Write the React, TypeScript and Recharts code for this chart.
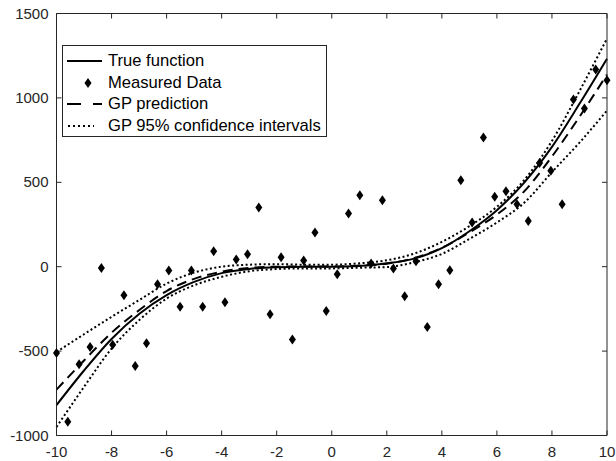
import React from "react";
import { ComposedChart, Line, Scatter, XAxis, YAxis } from "recharts";

const curveX = [-10, -9, -8, -7, -6, -5, -4, -3, -2, -1, 0, 1, 2, 3, 4, 5, 6, 7, 8, 9, 10];
const trueValues = [-820, -615, -428, -280, -168, -90, -38, -13, -3, 0, 0, 4, 20, 48, 110, 210, 335, 500, 710, 965, 1232];
const gpValues = [-728, -556, -391, -258, -144, -72, -30, -7, 0, 1, 1, 7, 18, 52, 112, 203, 309, 448, 653, 888, 1139];
const upperValues = [-505, -400, -297, -198, -100, -35, 0, 12, 15, 12, 12, 20, 38, 78, 147, 240, 355, 515, 745, 1040, 1352];
const lowerValues = [-950, -712, -485, -317, -189, -110, -60, -27, -14, -10, -10, -6, -2, 26, 76, 165, 262, 380, 560, 735, 925];

const measuredX = [-10, -9.59, -9.18, -8.78, -8.37, -7.96, -7.55, -7.14, -6.73, -6.33, -5.92, -5.51, -5.1, -4.69, -4.29, -3.88, -3.47, -3.06, -2.65, -2.24, -1.84, -1.43, -1.02, -0.61, -0.2, 0.2, 0.61, 1.02, 1.43, 1.84, 2.24, 2.65, 3.06, 3.47, 3.88, 4.29, 4.69, 5.1, 5.51, 5.92, 6.33, 6.73, 7.14, 7.55, 7.96, 8.37, 8.78, 9.18, 9.59, 10];
const measuredY = [-511, -919, -578, -475, -7, -463, -169, -588, -453, -104, -23, -238, -23, -238, 92, -210, 43, 74, 351, -281, 56, -431, 37, 203, -262, -44, 315, 424, 19, 394, -11, -175, 33, -357, -104, -21, 512, 262, 765, 414, 447, 370, 271, 615, 568, 370, 990, 937, 1168, 1105];

const xTicks = [-10, -8, -6, -4, -2, 0, 2, 4, 6, 8, 10];
const yTicks = [-1000, -500, 0, 500, 1000, 1500];

const legendLabels = ["True function", "Measured Data", "GP prediction", "GP 95% confidence intervals"];

const X_MIN = xTicks[0];
const X_MAX = xTicks[xTicks.length - 1];
const Y_MIN = yTicks[0];
const Y_MAX = yTicks[yTicks.length - 1];

const toSeries = (ys: number[]) => curveX.map((x, i) => ({ x, y: ys[i] }));
const trueData = toSeries(trueValues);
const gpData = toSeries(gpValues);
const upperData = toSeries(upperValues);
const lowerData = toSeries(lowerValues);
const measuredData = measuredX.map((x, i) => ({ x, y: measuredY[i] }));

// axis-box decorations, positioned through the chart scales
const topTickData = xTicks.map((x) => ({ x, y: Y_MAX }));
const bottomTickData = xTicks.map((x) => ({ x, y: Y_MIN }));
const leftTickData = yTicks.map((y) => ({ x: X_MIN, y }));
const rightTickData = yTicks.map((y) => ({ x: X_MAX, y }));

const W = 616;
const H = 461;
const M_TOP = 13.5;
const M_RIGHT = 9;
const Y_AXIS_W = 56.5;
const X_AXIS_H = 25.5;
const PLOT_W = W - Y_AXIS_W - M_RIGHT;
const PLOT_H = H - M_TOP - X_AXIS_H;

const AXIS = "#262626";
const FONT = "'Liberation Sans', Arial, Helvetica, sans-serif";
const TL = 5;

const BottomTick = (p: any) => (
  <text x={p.x} y={p.y + 21} textAnchor="middle" fontSize={15} fill={AXIS} fontFamily={FONT}>
    {p.payload.value}
  </text>
);
const LeftTick = (p: any) => (
  <text x={p.x - 8} y={p.y + 5} textAnchor="end" fontSize={15} fill={AXIS} fontFamily={FONT}>
    {p.payload.value}
  </text>
);

const TopMark = (p: any) => {
  const { cx, cy, payload } = p;
  if (cx == null || cy == null) return null;
  return (
    <g>
      <line x1={cx} y1={cy} x2={cx} y2={cy + TL} stroke={AXIS} strokeWidth={1} />
      {payload && payload.x === X_MIN ? (
        <line x1={cx} y1={cy} x2={cx + PLOT_W} y2={cy} stroke={AXIS} strokeWidth={1} />
      ) : null}
    </g>
  );
};
const BottomMark = (p: any) => {
  const { cx, cy } = p;
  if (cx == null || cy == null) return null;
  return <line x1={cx} y1={cy} x2={cx} y2={cy - TL} stroke={AXIS} strokeWidth={1} />;
};
const LeftMark = (p: any) => {
  const { cx, cy } = p;
  if (cx == null || cy == null) return null;
  return <line x1={cx} y1={cy} x2={cx + TL} y2={cy} stroke={AXIS} strokeWidth={1} />;
};
const RightMark = (p: any) => {
  const { cx, cy, payload } = p;
  if (cx == null || cy == null) return null;
  return (
    <g>
      <line x1={cx} y1={cy} x2={cx - TL} y2={cy} stroke={AXIS} strokeWidth={1} />
      {payload && payload.y === Y_MIN ? (
        <line x1={cx} y1={cy} x2={cx} y2={cy - PLOT_H} stroke={AXIS} strokeWidth={1} />
      ) : null}
    </g>
  );
};

const Diamond = (p: any) => {
  const { cx, cy } = p;
  if (cx == null || cy == null) return null;
  return <polygon points={`${cx},${cy - 5} ${cx + 3.5},${cy} ${cx},${cy + 5} ${cx - 3.5},${cy}`} fill="#000" />;
};

const LegendBox = () => {
  const samples = [
    <line x1={0} y1={6} x2={35} y2={6} stroke="#000" strokeWidth={2} />,
    <polygon points="21,1 24.5,6 21,11 17.5,6" fill="#000" />,
    <line x1={0} y1={6} x2={35} y2={6} stroke="#000" strokeWidth={2.2} strokeDasharray="14 12" />,
    <line x1={1} y1={6} x2={27} y2={6} stroke="#000" strokeWidth={2} strokeDasharray="2 3" />,
  ];
  return (
    <div
      style={{
        position: "absolute",
        left: 62,
        top: 45,
        border: `1px solid ${AXIS}`,
        background: "#fff",
        width: 265,
        height: 92,
        boxSizing: "border-box",
        paddingTop: 4,
        fontFamily: FONT,
        fontSize: 16.6,
        color: "#000",
      }}
    >
      {legendLabels.map((label) => {
        const i = legendLabels.indexOf(label);
        return (
          <div key={label} style={{ display: "flex", alignItems: "center", height: 21.7 }}>
            <svg width={35} height={12} style={{ marginLeft: 4, marginRight: 6 }}>
              {samples[i]}
            </svg>
            <span>{label}</span>
          </div>
        );
      })}
    </div>
  );
};

export default function App() {
  return (
    <div style={{ position: "relative", width: W, height: H, background: "#fff", overflow: "hidden" }}>
      <style>{"html,body{margin:0;padding:0;}"}</style>
      <ComposedChart width={W} height={H} margin={{ top: M_TOP, right: M_RIGHT, left: 0, bottom: 0 }}>
        <XAxis
          dataKey="x"
          type="number"
          domain={[X_MIN, X_MAX]}
          ticks={xTicks}
          interval={0}
          height={X_AXIS_H}
          stroke={AXIS}
          tickSize={0}
          tickMargin={0}
          tick={<BottomTick />}
        />
        <YAxis
          type="number"
          domain={[Y_MIN, Y_MAX]}
          ticks={yTicks}
          interval={0}
          width={Y_AXIS_W}
          stroke={AXIS}
          tickSize={0}
          tickMargin={0}
          tick={<LeftTick />}
        />
        <Scatter data={topTickData} dataKey="y" shape={<TopMark />} legendType="none" isAnimationActive={false} />
        <Scatter data={bottomTickData} dataKey="y" shape={<BottomMark />} legendType="none" isAnimationActive={false} />
        <Scatter data={leftTickData} dataKey="y" shape={<LeftMark />} legendType="none" isAnimationActive={false} />
        <Scatter data={rightTickData} dataKey="y" shape={<RightMark />} legendType="none" isAnimationActive={false} />
        <Line data={trueData} dataKey="y" type="monotone" stroke="#000" strokeWidth={2} dot={false} isAnimationActive={false} />
        <Scatter data={measuredData} dataKey="y" shape={<Diamond />} isAnimationActive={false} />
        <Line data={gpData} dataKey="y" type="monotone" stroke="#000" strokeWidth={2} strokeDasharray="10 6" dot={false} isAnimationActive={false} />
        <Line data={upperData} dataKey="y" type="monotone" stroke="#000" strokeWidth={2} strokeDasharray="2 2.5" dot={false} isAnimationActive={false} />
        <Line data={lowerData} dataKey="y" type="monotone" stroke="#000" strokeWidth={2} strokeDasharray="2 2.5" dot={false} isAnimationActive={false} />
      </ComposedChart>
      <LegendBox />
    </div>
  );
}
